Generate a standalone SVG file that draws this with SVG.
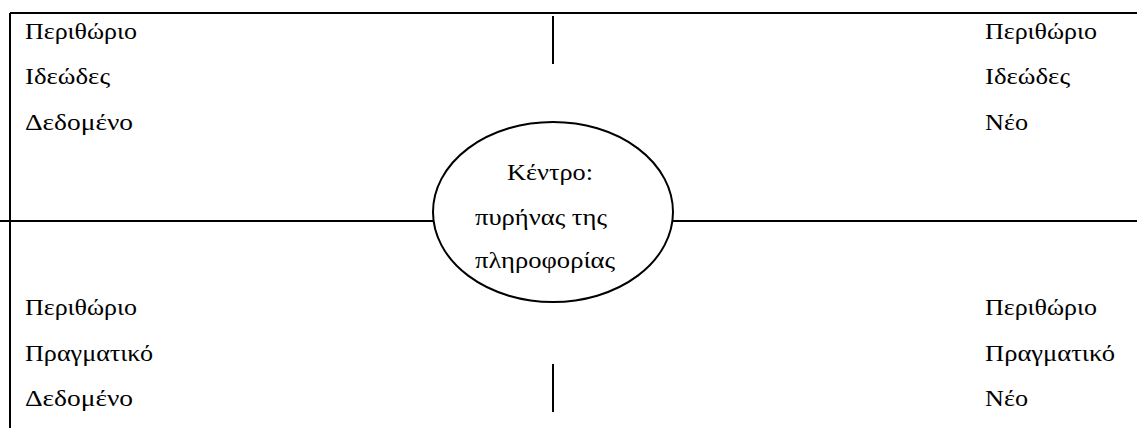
<svg xmlns="http://www.w3.org/2000/svg" width="1138" height="428" viewBox="0 0 1138 428">
<style>
.t{font-family:"Liberation Serif","Times New Roman",serif;font-size:23.5px;fill:#000}
.ln{stroke:#000;stroke-width:2;fill:none}
</style>
<rect width="1138" height="428" fill="#fff"/>
<g id="connectors">
<line class="ln" x1="10" y1="13" x2="1137" y2="13"/>
<line class="ln" x1="10" y1="13" x2="10" y2="428"/>
<line class="ln" x1="553" y1="16" x2="553" y2="64"/>
<line class="ln" x1="553" y1="364" x2="553" y2="412"/>
<line class="ln" x1="0" y1="221" x2="433" y2="221"/>
<line class="ln" x1="673" y1="221" x2="1137" y2="221"/>
</g>
<g id="top-left">
<text class="t" x="25" y="39" textLength="112" lengthAdjust="spacingAndGlyphs">Περιθώριο</text>
<text class="t" x="25" y="84" textLength="85" lengthAdjust="spacingAndGlyphs">Ιδεώδες</text>
<text class="t" x="25" y="130" textLength="108" lengthAdjust="spacingAndGlyphs">Δεδομένο</text>
</g>
<g id="top-right">
<text class="t" x="985" y="39" textLength="112" lengthAdjust="spacingAndGlyphs">Περιθώριο</text>
<text class="t" x="985" y="84" textLength="85" lengthAdjust="spacingAndGlyphs">Ιδεώδες</text>
<text class="t" x="985" y="130" textLength="43" lengthAdjust="spacingAndGlyphs">Νέο</text>
</g>
<g id="bottom-left">
<text class="t" x="25" y="315" textLength="112" lengthAdjust="spacingAndGlyphs">Περιθώριο</text>
<text class="t" x="25" y="361" textLength="128" lengthAdjust="spacingAndGlyphs">Πραγματικό</text>
<text class="t" x="25" y="406" textLength="108" lengthAdjust="spacingAndGlyphs">Δεδομένο</text>
</g>
<g id="bottom-right">
<text class="t" x="985" y="315" textLength="112" lengthAdjust="spacingAndGlyphs">Περιθώριο</text>
<text class="t" x="985" y="361" textLength="130" lengthAdjust="spacingAndGlyphs">Πραγματικό</text>
<text class="t" x="985" y="406" textLength="43" lengthAdjust="spacingAndGlyphs">Νέο</text>
</g>
<g id="center">
<ellipse class="ln" cx="553" cy="212" rx="120" ry="90"/>
<text class="t" x="507" y="180" textLength="86" lengthAdjust="spacingAndGlyphs">Κέντρο:</text>
<text class="t" x="475" y="225" textLength="132" lengthAdjust="spacingAndGlyphs">πυρήνας της</text>
<text class="t" x="475" y="268" textLength="140" lengthAdjust="spacingAndGlyphs">πληροφορίας</text>
</g>
</svg>
